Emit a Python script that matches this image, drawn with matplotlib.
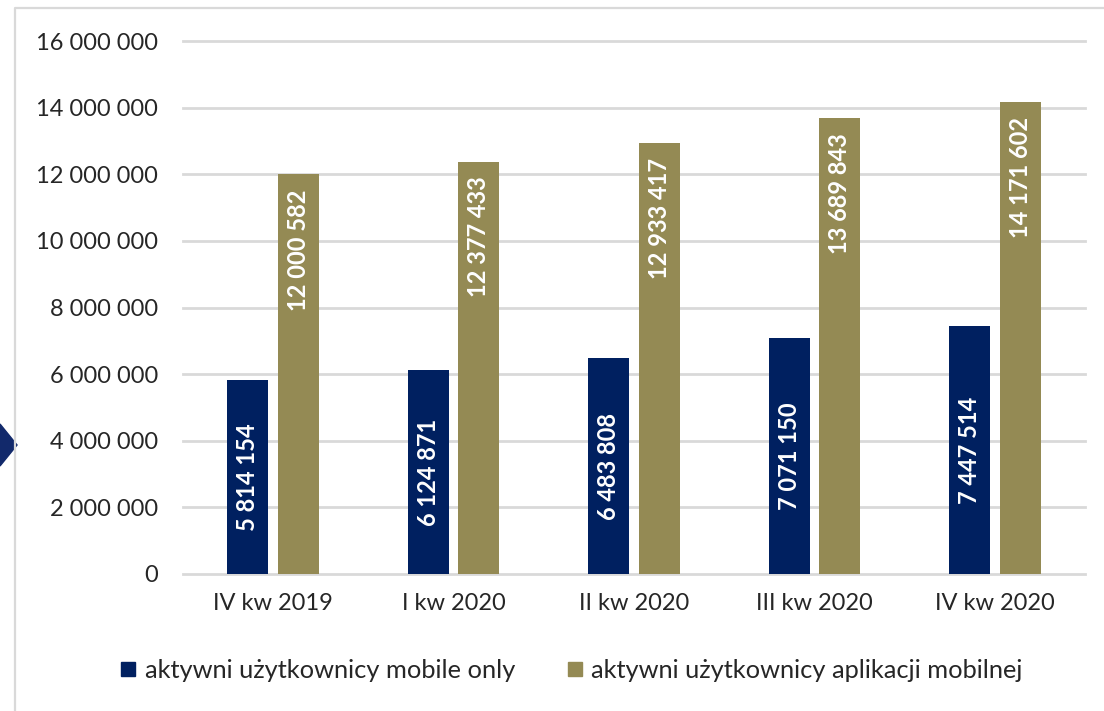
import matplotlib.pyplot as plt
from matplotlib.lines import Line2D
from matplotlib.patches import Polygon
import numpy as np

plt.rcParams['font.family'] = ['Lato', 'DejaVu Sans']

kwartaly = ['IV kw 2019', 'I kw 2020', 'II kw 2020', 'III kw 2020', 'IV kw 2020']
mobile_only = [5814154, 6124871, 6483808, 7071150, 7447514]
aplikacja = [12000582, 12377433, 12933417, 13689843, 14171602]
yticks = [0, 2000000, 4000000, 6000000, 8000000, 10000000, 12000000, 14000000, 16000000]

granat = '#002060'
oliwka = '#948A54'
siatka = '#D9D9D9'
tekst = '#404040'

def fmt(v):
    return f'{v:,}'.replace(',', ' ')

W, H = 1104, 711
fig = plt.figure(figsize=(W / 100, H / 100), dpi=100)
ax = fig.add_axes([183 / W, 1 - 574 / H, (1085 - 183) / W, (574 - 41) / H])

x = np.arange(len(kwartaly))
szer = 0.227
off = 0.14
b1 = ax.bar(x - off, mobile_only, szer, color=granat, zorder=3)
b2 = ax.bar(x + off, aplikacja, szer, color=oliwka, zorder=3)

# etykiety wartosci: granatowe na srodku, oliwkowe przy koncu slupka
for xi, v in zip(x, mobile_only):
    ax.text(xi - off, v / 2, fmt(v), rotation=90, ha='center', va='center',
            color='white', fontsize=17, fontweight='bold', zorder=4)
for xi, v in zip(x, aplikacja):
    ax.text(xi + off, v - 450000, fmt(v), rotation=90, ha='center', va='top',
            color='white', fontsize=17, fontweight='bold', zorder=4)

ax.set_xlim(-0.5, len(kwartaly) - 0.5)
ax.set_ylim(0, 16000000)
ax.set_yticks(yticks)
ax.set_yticklabels([fmt(v) for v in yticks])
ax.set_xticks(x)
ax.set_xticklabels(kwartaly)
ax.tick_params(axis='both', length=0, labelsize=17, colors=tekst, labelcolor='#262626')
ax.tick_params(axis='y', pad=18)
ax.tick_params(axis='x', pad=14)
for s in ax.spines.values():
    s.set_visible(False)
ax.yaxis.grid(True, color=siatka, lw=2, zorder=0)
ax.set_axisbelow(True)
for gl in ax.get_ygridlines():
    gl.set_clip_on(False)

uchwyty = [Line2D([], [], ls='none', marker='s', markersize=10, color=granat),
           Line2D([], [], ls='none', marker='s', markersize=10, color=oliwka)]
fig.legend(uchwyty, ['aktywni użytkownicy mobile only', 'aktywni użytkownicy aplikacji mobilnej'],
           loc='center', bbox_to_anchor=(571 / W, 1 - 670 / H), ncol=2, frameon=False,
           fontsize=18.3, handlelength=0.7, handletextpad=0.3, columnspacing=2.0,
           labelcolor='#262626')

# ramka i strzalka z lewej strony
fig.add_artist(Line2D([15 / W, 15 / W, 1], [0, 1 - 8 / H, 1 - 8 / H],
                      transform=fig.transFigure, color=siatka, lw=1.6))
fig.add_artist(Polygon([[0, 1 - 424 / H], [17 / W, 1 - 445 / H], [0, 1 - 466 / H]],
                       closed=True, transform=fig.transFigure, color='#12296B'))

fig.savefig('out.png', dpi=100)
